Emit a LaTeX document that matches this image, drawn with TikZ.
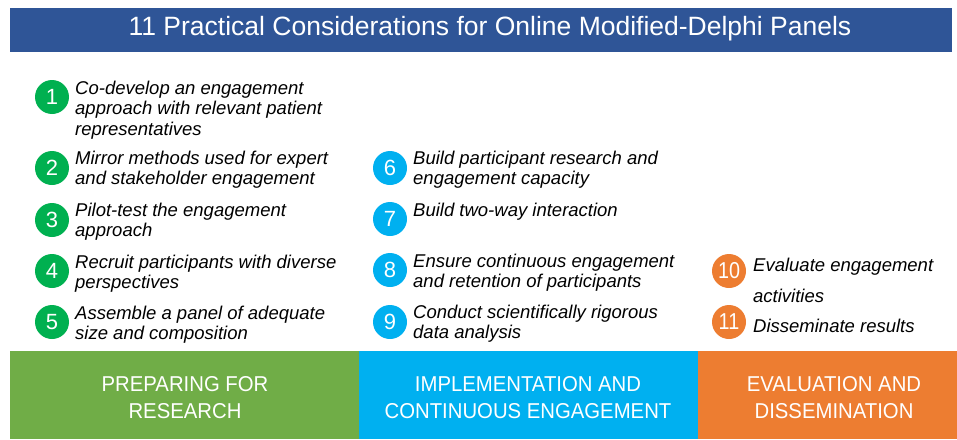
\documentclass[tikz,border=0pt]{standalone}
\usepackage{fontspec}
\setmainfont{Liberation Sans}
\newfontfamily\narrowfont{Liberation Sans}[FakeStretch=0.86]
\newfontfamily\phasefont{Liberation Sans}[FakeStretch=0.945]
\definecolor{titleblue}{HTML}{2F5597}
\definecolor{bargreen}{HTML}{70AD47}
\definecolor{barblue}{HTML}{00B0F0}
\definecolor{barorange}{HTML}{ED7D31}
\definecolor{numgreen}{HTML}{00B050}
\tikzset{
  numc/.style={circle, minimum size=34pt, inner sep=0pt, text=white, font=\fontsize{22}{22}\selectfont},
  ngreen/.style={numc, fill=numgreen},
  nblue/.style={numc, fill=barblue},
  norange/.style={numc, fill=barorange, font=\narrowfont\fontsize{23}{23}\selectfont},
  itemtxt/.style={anchor=north west, inner sep=0pt, align=left, font=\fontsize{18.5}{20.5}\selectfont\itshape},
  phase/.style={text=white, align=center, font=\phasefont\fontsize{21.5}{26.5}\selectfont}
}
\begin{document}
\begin{tikzpicture}[x=1pt,y=-1pt]
\useasboundingbox (0,0) rectangle (957,439);
% title
\fill[titleblue] (10,8) rectangle (952,52);
\node[text=white, font=\fontsize{26.5}{26.5}\selectfont] (title) at (490,29) {11 Practical Considerations for Online Modified-Delphi Panels};
% bottom bars
\fill[bargreen] (10,351) rectangle (359,439);
\fill[barblue] (359,351) rectangle (698,439);
\fill[barorange] (698,351) rectangle (957,439);
\node[phase] (p1) at (185,397.5) {PREPARING FOR\\RESEARCH};
\node[phase] (p2) at (528,397.5) {IMPLEMENTATION AND\\CONTINUOUS ENGAGEMENT};
\node[phase] (p3) at (834,397.5) {EVALUATION AND\\DISSEMINATION};
% column 1
\node[ngreen] (n1) at (52,97) {1};
\node[ngreen] (n2) at (52,168) {2};
\node[ngreen] (n3) at (52,220) {3};
\node[ngreen] (n4) at (52,271) {4};
\node[ngreen] (n5) at (52,322) {5};
\node[itemtxt] (t1) at (75,80.5) {Co-develop an engagement\\approach with relevant patient\\representatives};
\node[itemtxt] (t2) at (75,150.5) {Mirror methods used for expert\\and stakeholder engagement};
\node[itemtxt] (t3) at (75,202.5) {Pilot-test the engagement\\approach};
\node[itemtxt] (t4) at (75,254.5) {Recruit participants with diverse\\perspectives};
\node[itemtxt] (t5) at (75,305.5) {Assemble a panel of adequate\\size and composition};
% column 2
\node[nblue] (n6) at (390,168) {6};
\node[nblue] (n7) at (390,219) {7};
\node[nblue] (n8) at (390,270) {8};
\node[nblue] (n9) at (390,322) {9};
\node[itemtxt] (t6) at (413,150.5) {Build participant research and\\engagement capacity};
\node[itemtxt] (t7) at (413,202.5) {Build two-way interaction};
\node[itemtxt] (t8) at (413,253.5) {Ensure continuous engagement\\and retention of participants};
\node[itemtxt] (t9) at (413,304.5) {Conduct scientifically rigorous\\data analysis};
% column 3
\node[norange] (n10) at (729,271) {10};
\node[norange] (n11) at (729,322) {11};
\node[itemtxt] (t10) at (753,257.5) {Evaluate engagement\\[11pt]activities};
\node[itemtxt] (t11) at (753,319) {Disseminate results};
\end{tikzpicture}
\end{document}
